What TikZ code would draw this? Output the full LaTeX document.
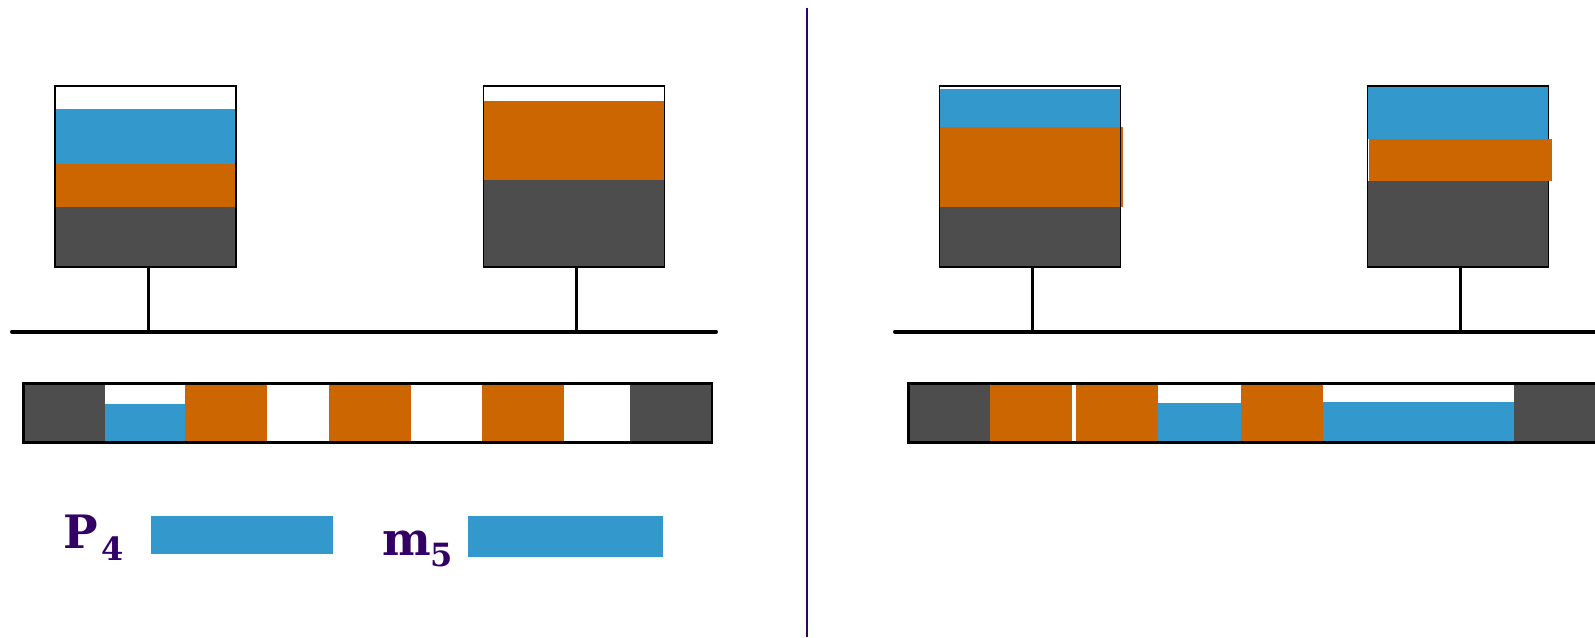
\documentclass[tikz,border=0pt]{standalone}
\usepackage{fontspec}
\setmainfont{DejaVu Serif}
\definecolor{pblue}{RGB}{51,153,204}
\definecolor{porange}{RGB}{204,102,0}
\definecolor{pgray}{RGB}{77,77,77}
\definecolor{ppurple}{RGB}{51,0,102}
\begin{document}
\begin{tikzpicture}[x=1pt,y=-1pt,
    host/.style={draw,line width=1.5pt,minimum width=181pt,minimum height=181pt,inner sep=0pt},
    frame/.style={draw,line width=2.5pt,minimum height=59pt,inner sep=0pt},
    bus/.style={line width=4pt,line cap=round},
    stem/.style={line width=3pt},
    lbl/.style={anchor=base west,inner sep=0pt,text=ppurple,font=\bfseries\fontsize{46}{50}\selectfont}]
      \useasboundingbox (0,0) rectangle (1595,637);
      \clip (0,0) rectangle (1595,637);
      \fill[pblue] (55,109) rectangle (236,164);
      \fill[porange] (55,164) rectangle (236,207);
      \fill[pgray] (55,207) rectangle (236,267);
      \node[host] (h1) at (145.5,176.5) {};
      \fill[porange] (483,101) rectangle (665,180);
      \fill[pgray] (483,180) rectangle (665,267);
      \node[host] (h2) at (574,176.5) {};
      \coordinate (b1) at (12,331.6);
      \coordinate (b1e) at (716,331.6);
      \draw[bus] (b1) -- (b1e);
      \draw[stem] ([xshift=2.5pt]h1.south) -- ([xshift=2.5pt]h1.south |- b1);
      \draw[stem] ([xshift=2.5pt]h2.south) -- ([xshift=2.5pt]h2.south |- b1);
      \fill[pgray] (23.4,383.5) rectangle (104.7,442.5);
      \fill[pblue] (104.7,404) rectangle (185,442.5);
      \fill[porange] (185,383.5) rectangle (267,442.5);
      \fill[porange] (329,383.5) rectangle (411,442.5);
      \fill[porange] (482,383.5) rectangle (564,442.5);
      \fill[pgray] (630,383.5) rectangle (712,442.5);
      \node[frame,minimum width=688.6pt] (q1) at (367.7,413) {};
      \fill[pblue] (150.5,515.7) rectangle (332.6,554.4);
      \fill[pblue] (467.5,515.5) rectangle (663.3,557.4);
      \node[lbl] (p4) at (63,548) {P\hspace{4pt}\raisebox{-12.7pt}{\fontsize{32}{32}\selectfont 4}};
      \node[lbl] (m5) at (382,555) {m\raisebox{-11.7pt}{\fontsize{32}{32}\selectfont 5}};
      \draw[ppurple,line width=2pt] (807,8) -- (807,637);
      % right half
      \fill[pblue] (939,89) rectangle (1121,127);
      \fill[porange] (939,127) rectangle (1123,207);
      \fill[pgray] (939,207) rectangle (1121,267);
      \node[host] (h3) at (1030,176.5) {};
      \fill[pblue] (1367,86) rectangle (1549,139);
      \fill[pgray] (1367,181) rectangle (1549,267);
      \node[host] (h4) at (1458,176.5) {};
      \fill[porange] (1369,139) rectangle (1552,181);
      \coordinate (b2) at (895,331.6);
      \coordinate (b2e) at (1640,331.6);
      \draw[bus] (b2) -- (b2e);
      \draw[stem] ([xshift=2.5pt]h3.south) -- ([xshift=2.5pt]h3.south |- b2);
      \draw[stem] ([xshift=2.5pt]h4.south) -- ([xshift=2.5pt]h4.south |- b2);
      \fill[pgray] (908.4,383.5) rectangle (989.5,442.5);
      \fill[porange] (989.5,383.5) rectangle (1072,442.5);
      \fill[porange] (1076.4,383.5) rectangle (1158.4,442.5);
      \fill[pblue] (1158.4,402.7) rectangle (1241.3,442.5);
      \fill[porange] (1241.3,383.5) rectangle (1323.3,442.5);
      \fill[pblue] (1323.3,401.7) rectangle (1514,442.5);
      \fill[pgray] (1514,383.5) rectangle (1640,442.5);
      \node[frame,minimum width=731.6pt] (q2) at (1274.2,413) {};
    \end{tikzpicture}
\end{document}
